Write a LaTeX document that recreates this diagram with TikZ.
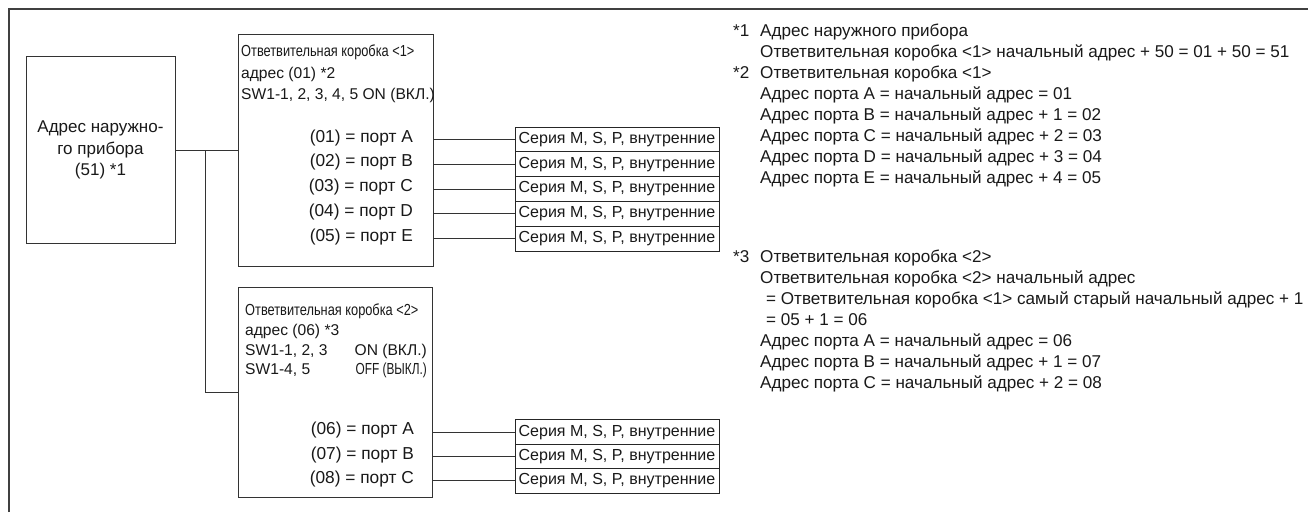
\documentclass[tikz,border=0pt]{standalone}
\usepackage{fontspec}
\setmainfont{Liberation Sans}
\newfontfamily\narrowfont[FakeStretch=0.8]{Liberation Sans}
\newfontfamily\narrowerfont[FakeStretch=0.74]{Liberation Sans}
\begin{document}
\begin{tikzpicture}[x=1pt,y=-1pt,
  frame/.style={draw=black!75, line width=1.2pt},
  boxnode/.style={draw=black!80, line width=1pt, inner sep=0pt},
  sernode/.style={draw=black!85, line width=0.9pt, inner sep=0pt, minimum width=204pt, minimum height=24.8pt, font=\fontsize{16}{18}\selectfont, text=black!90},
  wire/.style={draw=black!80, line width=0.9pt},
  txt/.style={inner sep=0pt, text=black!90, font=\fontsize{17.1}{21}\selectfont},
  porttxt/.style={inner sep=0pt, text=black!90, font=\fontsize{17.3}{21}\selectfont},
  smalltxt/.style={inner sep=0pt, text=black!90, font=\fontsize{15.6}{19}\selectfont},
  narrowtxt/.style={inner sep=0pt, text=black!90, font=\narrowfont\fontsize{16}{19}\selectfont},
  narrowertxt/.style={inner sep=0pt, text=black!90, font=\narrowerfont\fontsize{16}{19}\selectfont}]
\useasboundingbox (0,0) rectangle (1308,512);
\fill[white] (0,0) rectangle (1308,512);
% outer frame
\draw[frame] (9,512) -- (9,9) -- (1308,9);

% outdoor unit
\node[boxnode, minimum width=149pt, minimum height=187pt, align=center, text=black!90,
  font=\fontsize{17}{21.5}\selectfont] (od) at (100.5,150) {Адрес наружно-\\го прибора\\(51) *1};

% branch box 1
\node[boxnode, minimum width=195pt, minimum height=232pt] (b1) at (335.5,150) {};
\node[narrowtxt, anchor=mid west] (b1t1) at (241,54) {Ответвительная коробка <1>};
\node[smalltxt, anchor=mid west] (b1t2) at (241,76) {адрес (01) *2};
\node[smalltxt, anchor=mid west] (b1t3) at (241,97) {SW1-1, 2, 3, 4, 5 ON (ВКЛ.)};

\node[sernode] (s11) at (617,139.4) {Серия M, S, P, внутренние};
\node[sernode] (s12) at (617,164.2) {Серия M, S, P, внутренние};
\node[sernode] (s13) at (617,189.0) {Серия M, S, P, внутренние};
\node[sernode] (s14) at (617,213.8) {Серия M, S, P, внутренние};
\node[sernode] (s15) at (617,238.6) {Серия M, S, P, внутренние};

\node[porttxt, anchor=mid east] (p11) at (413,139.4) {(01) = порт A};
\node[porttxt, anchor=mid east] (p12) at (413,164.2) {(02) = порт B};
\node[porttxt, anchor=mid east] (p13) at (413,189.0) {(03) = порт C};
\node[porttxt, anchor=mid east] (p14) at (413,213.8) {(04) = порт D};
\node[porttxt, anchor=mid east] (p15) at (413,238.6) {(05) = порт E};

\foreach \i in {11,12,13,14,15} \draw[wire] (b1.east |- s\i) -- (s\i.west);

% branch box 2
\node[boxnode, minimum width=194pt, minimum height=210pt] (b2) at (335,392.5) {};
\node[narrowtxt, anchor=mid west] (b2t1) at (245,313) {Ответвительная коробка <2>};
\node[smalltxt, anchor=mid west] (b2t2) at (245,333) {адрес (06) *3};
\node[smalltxt, anchor=mid west] (b2t3) at (245,353) {SW1-1, 2, 3};
\node[smalltxt, anchor=mid east] (b2t4) at (427,353) {ON (ВКЛ.)};
\node[smalltxt, anchor=mid west] (b2t5) at (245,372) {SW1-4, 5};
\node[narrowertxt, anchor=mid east] (b2t6) at (427,372) {OFF (ВЫКЛ.)};

\node[sernode] (s21) at (617,432.2) {Серия M, S, P, внутренние};
\node[sernode] (s22) at (617,456.5) {Серия M, S, P, внутренние};
\node[sernode] (s23) at (617,480.8) {Серия M, S, P, внутренние};

\node[porttxt, anchor=mid east] (p21) at (414,432.2) {(06) = порт A};
\node[porttxt, anchor=mid east] (p22) at (414,456.5) {(07) = порт B};
\node[porttxt, anchor=mid east] (p23) at (414,480.8) {(08) = порт C};

\foreach \i in {21,22,23} \draw[wire] (b2.east |- s\i) -- (s\i.west);

% trunk
\coordinate (j) at (205,150);
\draw[wire] (od.east) -- (b1.west);
\draw[wire] (j) |- (b2.west);

% notes
\node[txt, anchor=mid west] (n1m) at (733,34) {*1};
\node[txt, anchor=mid west] (n1a) at (760,34) {Адрес наружного прибора};
\node[txt, anchor=mid west] (n1b) at (760,55) {Ответвительная коробка <1> начальный адрес + 50 = 01 + 50 = 51};
\node[txt, anchor=mid west] (n2m) at (733,76) {*2};
\node[txt, anchor=mid west] (n2a) at (760,76) {Ответвительная коробка <1>};
\node[txt, anchor=mid west] (n2b) at (760,97) {Адрес порта A = начальный адрес = 01};
\node[txt, anchor=mid west] (n2c) at (760,118) {Адрес порта B = начальный адрес + 1 = 02};
\node[txt, anchor=mid west] (n2d) at (760,139) {Адрес порта C = начальный адрес + 2 = 03};
\node[txt, anchor=mid west] (n2e) at (760,160) {Адрес порта D = начальный адрес + 3 = 04};
\node[txt, anchor=mid west] (n2f) at (760,181) {Адрес порта E = начальный адрес + 4 = 05};

\node[txt, anchor=mid west] (n3m) at (733,260) {*3};
\node[txt, anchor=mid west] (n3a) at (760,260) {Ответвительная коробка <2>};
\node[txt, anchor=mid west] (n3b) at (760,281) {Ответвительная коробка <2> начальный адрес};
\node[txt, anchor=mid west] (n3c) at (766,302) {= Ответвительная коробка <1> самый старый начальный адрес + 1};
\node[txt, anchor=mid west] (n3d) at (766,323) {= 05 + 1 = 06};
\node[txt, anchor=mid west] (n3e) at (760,344) {Адрес порта A = начальный адрес = 06};
\node[txt, anchor=mid west] (n3f) at (760,365) {Адрес порта B = начальный адрес + 1 = 07};
\node[txt, anchor=mid west] (n3g) at (760,386) {Адрес порта C = начальный адрес + 2 = 08};
\end{tikzpicture}
\end{document}
